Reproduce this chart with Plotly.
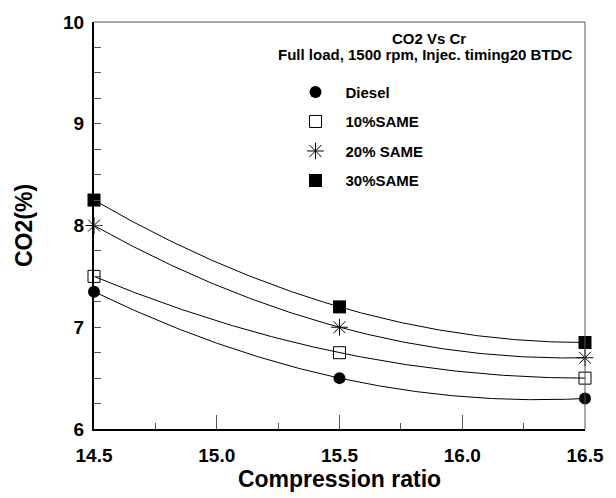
import numpy as np
import plotly.graph_objects as go

# Compression ratio vs CO2 emission
compression_ratio = [14.5, 15.5, 16.5]
co2_diesel = [7.35, 6.50, 6.30]
co2_same10 = [7.50, 6.75, 6.50]
co2_same20 = [8.00, 7.00, 6.70]
co2_same30 = [8.25, 7.20, 6.85]

x_ticks = [14.5, 15.0, 15.5, 16.0, 16.5]
x_tick_labels = ["14.5", "15.0", "15.5", "16.0", "16.5"]
y_ticks = [6, 7, 8, 9, 10]
y_tick_labels = ["6", "7", "8", "9", "10"]

series = [
    ("Diesel", co2_diesel, dict(symbol="circle", size=12, color="black")),
    ("10%SAME", co2_same10, dict(symbol="square-open", size=12, color="black", line=dict(width=1, color="black"))),
    ("20% SAME", co2_same20, dict(symbol="asterisk-open", size=14, color="black", line=dict(width=1, color="black"))),
    ("30%SAME", co2_same30, dict(symbol="square", size=13, color="black")),
]

FONT = "Arial, Liberation Sans, sans-serif"

fig = go.Figure()

# second-order fit curve through each series
xs = np.linspace(compression_ratio[0], compression_ratio[-1], 200)
for name, vals, _ in series:
    coef = np.polyfit(compression_ratio, vals, 2)
    fig.add_trace(go.Scatter(
        x=xs, y=np.polyval(coef, xs), mode="lines",
        line=dict(color="black", width=1), showlegend=False, hoverinfo="skip",
    ))

for i, (name, vals, mk) in enumerate(series):
    fig.add_trace(go.Scatter(
        x=compression_ratio, y=vals, mode="markers", name=name,
        marker=mk, cliponaxis=False, legendgroup=f"g{i}",
    ))

fig.update_layout(
    width=616, height=498,
    margin=dict(l=94, r=19, t=15, b=63),
    paper_bgcolor="white", plot_bgcolor="white",
    font=dict(family=FONT, color="black"),
    showlegend=True,
    legend=dict(
        x=0.39, y=0.868, xanchor="left", yanchor="top",
        bgcolor="rgba(0,0,0,0)", borderwidth=0,
        font=dict(family=FONT, size=15, weight="bold", color="black"),
        traceorder="grouped", tracegroupgap=7, itemsizing="trace", itemwidth=50,
    ),
    xaxis=dict(
        range=[14.5, 16.5], tickmode="array", tickvals=x_ticks,
        ticktext=[f"<b>{t}</b>" for t in x_tick_labels],
        showgrid=False, zeroline=False,
        showline=True, linecolor="black", linewidth=2,
        ticks="inside", ticklen=14, tickwidth=1, tickcolor="#555",
        minor=dict(dtick=0.25, tick0=14.5, ticks="inside", ticklen=6, tickwidth=1, tickcolor="#555", showgrid=False),
        tickfont=dict(family=FONT, size=19),
        ticklabelstandoff=8,
        title=dict(text="<b>Compression ratio</b>", font=dict(family=FONT, size=23), standoff=4),
    ),
    yaxis=dict(
        range=[6, 10], tickmode="array", tickvals=y_ticks,
        ticktext=[f"<b>{t}</b>" for t in y_tick_labels],
        showgrid=False, zeroline=False,
        showline=True, linecolor="black", linewidth=2,
        ticks="inside", ticklen=7, tickwidth=1, tickcolor="#555",
        minor=dict(dtick=0.25, tick0=6, ticks="inside", ticklen=7, tickwidth=1, tickcolor="#555", showgrid=False),
        tickfont=dict(family=FONT, size=19),
        ticklabelstandoff=4,
        title=dict(text="<b>CO2(%)</b>", font=dict(family=FONT, size=23), standoff=24),
    ),
    shapes=[
        dict(type="line", xref="paper", yref="paper", x0=0, x1=1, y0=1, y1=1,
             line=dict(color="#555", width=1)),
        dict(type="line", xref="paper", yref="paper", x0=1, x1=1, y0=0, y1=1,
             line=dict(color="#555", width=1)),
    ],
    annotations=[
        dict(text="<b>CO2 Vs Cr</b>", xref="paper", yref="paper", x=0.682, y=0.96,
             xanchor="center", yanchor="middle", showarrow=False,
             font=dict(family=FONT, size=15)),
        dict(text="<b>Full load, 1500 rpm, Injec. timing20 BTDC</b>", xref="paper", yref="paper",
             x=0.674, y=0.92, xanchor="center", yanchor="middle", showarrow=False,
             font=dict(family=FONT, size=15)),
    ],
)

fig.write_html("out.html")
